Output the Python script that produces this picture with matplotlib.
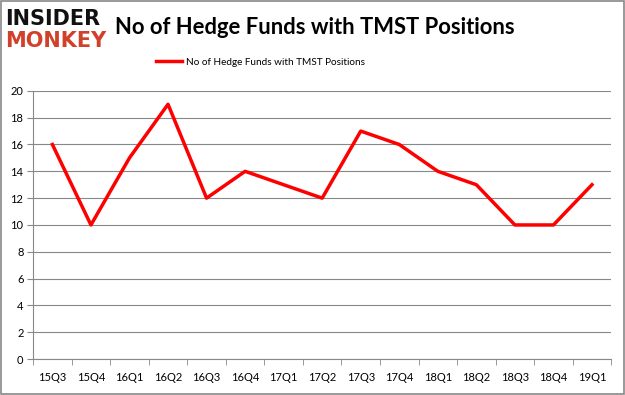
import matplotlib
matplotlib.use("Agg")
import matplotlib.pyplot as plt
from matplotlib.patches import Rectangle

quarters = ["15Q3", "15Q4", "16Q1", "16Q2", "16Q3", "16Q4", "17Q1", "17Q2",
            "17Q3", "17Q4", "18Q1", "18Q2", "18Q3", "18Q4", "19Q1"]
funds = [16, 10, 15, 19, 12, 14, 13, 12, 17, 16, 14, 13, 10, 10, 13]
yticks = [0, 2, 4, 6, 8, 10, 12, 14, 16, 18, 20]
series_name = "No of Hedge Funds with TMST Positions"

plt.rcParams["font.family"] = ["Lato", "DejaVu Sans"]

fig = plt.figure(figsize=(6.25, 3.95), dpi=100)
fig.patches.append(Rectangle((0.0015, 0.0025), 0.997, 0.995, transform=fig.transFigure,
                             fill=False, edgecolor="#888888", linewidth=1.2))
ax = fig.add_axes([0.053, 0.091, 0.925, 0.679])
x = list(range(len(quarters)))
ax.plot(x, funds, color="#ff0000", linewidth=2.5, label=series_name)
ax.set_xlim(-0.5, len(quarters) - 0.5)
ax.set_ylim(0, 20)
ax.set_yticks(yticks)
ax.set_xticks(x)
ax.set_xticklabels(quarters)
ax.set_xticks([i - 0.5 for i in range(len(quarters) + 1)], minor=True)
ax.tick_params(axis="x", which="major", length=0, pad=9, labelsize=8)
ax.tick_params(axis="x", which="minor", length=4, color="#888888")
ax.tick_params(axis="y", length=4, color="#888888", pad=3, labelsize=8)
ax.grid(axis="y", color="#888888", linewidth=0.8)
ax.set_axisbelow(True)
for s in ["top", "right"]:
    ax.spines[s].set_visible(False)
ax.spines["left"].set_color("#888888")
ax.spines["bottom"].set_color("#888888")

fig.text(0.184, 0.93, "No of Hedge Funds with TMST Positions", fontsize=15.8,
         fontweight="bold", va="center", ha="left", family="Lato")
fig.text(0.008, 0.952, "INSIDER", fontsize=15, fontweight="heavy", color="#111111",
         va="center", ha="left", family="DejaVu Sans")
fig.text(0.008, 0.897, "MONKEY", fontsize=15, fontweight="heavy", color="#d0402a",
         va="center", ha="left", family="DejaVu Sans")
fig.legend(loc="center", bbox_to_anchor=(0.417, 0.843), frameon=False, fontsize=7.2,
           handlelength=2.6, handletextpad=0.4)

fig.savefig("out.png", dpi=100)
